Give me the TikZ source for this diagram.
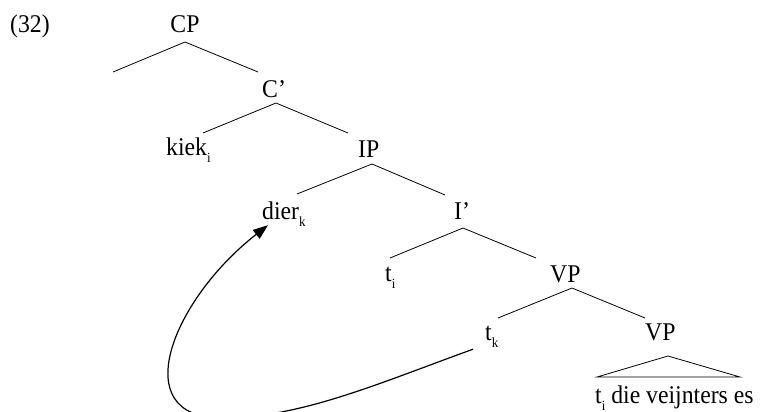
\documentclass[tikz,border=0pt]{standalone}
\usepackage{fontspec}
\setmainfont[FakeStretch=0.93]{Liberation Serif}
\usepackage{tikz}
\usetikzlibrary{arrows.meta,positioning}

\newcommand{\low}[1]{\raisebox{-7pt}{\fontsize{14}{16}\selectfont #1}}

\begin{document}
\begin{tikzpicture}[x=1pt, y=-1pt, lbl/.style={anchor=base west, inner sep=2pt, font=\fontsize{25.5}{30}\selectfont}, branch/.style={line width=0.8pt}]
            \useasboundingbox (0,0) rectangle (760,412);
            \node[lbl] (ex) at (8,33) {(32)};
            \node[lbl,anchor=base] (cp) at (185,33) {CP};
            \node[lbl] (cbar) at (260,97) {C’};
            \node[lbl] (kiek) at (164,155) {kiek\low{i}};
            \node[lbl] (ip) at (356,157) {IP};
            \node[lbl] (dier) at (260,219) {dier\low{k}};
            \node[lbl] (ibar) at (452,219) {I’};
            \node[lbl] (ti) at (383,281) {t\low{i}};
            \node[lbl] (vp1) at (548,282) {VP};
            \node[lbl] (tk) at (483,340) {t\low{k}};
            \node[lbl] (vp2) at (643,340) {VP};
            \node[lbl] (rest) at (593,403) {t\low{i} die veijnters es};

            \coordinate (cp-a) at (185,42);
            \coordinate (cp-l) at (113,72);
            \coordinate (cp-r) at (258,72);
            \coordinate (cbar-a) at (276,103);
            \coordinate (cbar-l) at (203,133);
            \coordinate (cbar-r) at (348,133);
            \coordinate (ip-a) at (372,164);
            \coordinate (ip-l) at (297,194);
            \coordinate (ip-r) at (445,195);
            \coordinate (ibar-a) at (463,228);
            \coordinate (ibar-l) at (390,258);
            \coordinate (ibar-r) at (536,258);
            \coordinate (vp1-a) at (572,288);
            \coordinate (vp1-l) at (498,318);
            \coordinate (vp1-r) at (645,318);
            \coordinate (vp2-a) at (668,356);
            \coordinate (vp2-l) at (597,377);
            \coordinate (vp2-r) at (740,377);
            \coordinate (loop) at (222,418);

            \draw[branch] (cp-l) -- (cp-a) -- (cp-r);
            \draw[branch] (cbar-l) -- (cbar-a) -- (cbar-r);
            \draw[branch] (ip-l) -- (ip-a) -- (ip-r);
            \draw[branch] (ibar-l) -- (ibar-a) -- (ibar-r);
            \draw[branch] (vp1-l) -- (vp1-a) -- (vp1-r);
            \draw[branch] (vp2-l) -- (vp2-a) -- (vp2-r) -- cycle;

            \draw[line width=1.2pt, -{Triangle[length=15pt,width=11pt]}] ([shift={(-10,0)}]tk.south west) .. controls (377,384) and (300,418) .. (loop) .. controls (125,418) and (172,300) .. ([shift={(8,-3)}]dier.south west);
          \end{tikzpicture}
\end{document}
